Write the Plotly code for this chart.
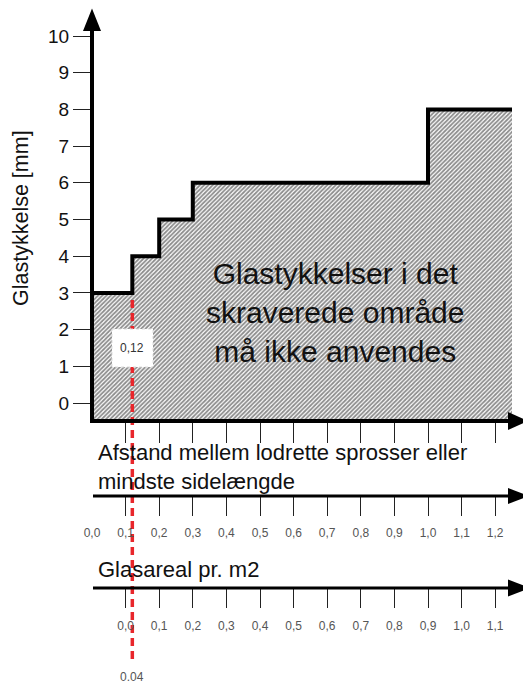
import plotly.graph_objects as go

# ---------------- data ----------------
step_x = [0.0, 0.12, 0.2, 0.3, 1.0, 1.25]          # afstand (m)
step_y = [3, 4, 5, 6, 8, 8]                          # glastykkelse (mm)
y_ticks = [0, 1, 2, 3, 4, 5, 6, 7, 8, 9, 10]
dist_ticks = [0.0, 0.1, 0.2, 0.3, 0.4, 0.5, 0.6, 0.7, 0.8, 0.9, 1.0, 1.1, 1.2]
dist_labels = ["0,0", "0,1", "0,2", "0,3", "0,4", "0,5", "0,6", "0,7", "0,8", "0,9", "1,0", "1,1", "1,2"]
glas_ticks = [0.0, 0.1, 0.2, 0.3, 0.4, 0.5, 0.6, 0.7, 0.8, 0.9, 1.0, 1.1]
glas_labels = ["0,0", "0,1", "0,2", "0,3", "0,4", "0,5", "0,6", "0,7", "0,8", "0,9", "1,0", "1,1"]
glas_offset = 0.1
marker_x = 0.12
marker_label = "0,12"
glas_marker_label = "0.04"
region_text = ["Glastykkelser i det", "skraverede område", "må ikke anvendes"]
y_title = "Glastykkelse [mm]"
x_title = ["Afstand mellem lodrette sprosser eller", "mindste sidelængde"]
glas_title = "Glasareal pr. m2"

# ---------------- geometry ----------------
WIN_W, WIN_H = 531, 685
OFF = 8  # default body margin of the page
W, H = WIN_W - OFF, WIN_H - OFF
X0PX, PXX = 92.0, 336.0
Y0PX, PXY = 403.0, 36.7


def xv(px):
    return (px - X0PX) / PXX


def yv(py):
    return (Y0PX - py) / PXY


def pos(py):
    return 1 - (py - OFF) / H


def px_paper(px):
    return (px - OFF) / W


FONT = "Liberation Sans, Arial, sans-serif"
x_range = [xv(OFF), xv(WIN_W)]
y_range = [yv(WIN_H), yv(OFF)]
base = yv(421)

fig = go.Figure()

# hatched area
fx = [step_x[0]] + step_x + [step_x[-1]]
fy = [base] + step_y + [base]
fig.add_trace(go.Scatter(
    x=fx, y=fy, mode="lines", line=dict(width=0, shape="hv"),
    fill="toself", fillcolor="white",
    fillpattern=dict(shape="/", size=3, solidity=0.6, fgcolor="#1a1a1a", bgcolor="white"),
    hoverinfo="skip", showlegend=False))
# step outline
fig.add_trace(go.Scatter(
    x=step_x, y=step_y, mode="lines", line=dict(width=4, color="black", shape="hv"),
    hoverinfo="skip", showlegend=False))
# red marker line
fig.add_trace(go.Scatter(
    x=[marker_x, marker_x], y=[yv(300), yv(663)], mode="lines",
    line=dict(width=3.5, color="#e8262b", dash="8px,5px"),
    hoverinfo="skip", showlegend=False))
# anchors for the extra axes
fig.add_trace(go.Scatter(x=[dist_ticks[0]], y=[base], xaxis="x2", mode="lines",
                         opacity=0, hoverinfo="skip", showlegend=False))
fig.add_trace(go.Scatter(x=[glas_ticks[0]], y=[base], xaxis="x3", mode="lines",
                         opacity=0, hoverinfo="skip", showlegend=False))

shapes = []
# axis lines
shapes.append(dict(type="line", xref="x", yref="y", x0=0, x1=0, y0=yv(423), y1=yv(26),
                   line=dict(color="black", width=4), layer="above"))
shapes.append(dict(type="path", xref="x", yref="y",
                   path=f"M {0},{yv(8.5)} L {xv(83)},{yv(31)} L {xv(101)},{yv(31)} Z",
                   fillcolor="black", line=dict(width=0), layer="above"))
for py, w, tip, half in [(421, 4, 528, 9), (496, 3, 529, 8), (588, 3, 530, 8.5)]:
    x_start = xv(90) if py == 421 else xv(93)
    shapes.append(dict(type="line", xref="x", yref="y", x0=x_start, x1=xv(512), y0=yv(py), y1=yv(py),
                       line=dict(color="black", width=w), layer="above"))
    shapes.append(dict(type="path", xref="x", yref="y",
                       path=f"M {xv(tip)},{yv(py)} L {xv(508)},{yv(py - half)} L {xv(508)},{yv(py + half)} Z",
                       fillcolor="black", line=dict(width=0), layer="above"))
# label box for marker
shapes.append(dict(type="rect", xref="x", yref="y", x0=xv(112), x1=xv(153), y0=yv(329), y1=yv(367),
                   fillcolor="white", line=dict(color="#dddddd", width=1, dash="dot"), layer="above"))

annotations = [
    dict(xref="paper", yref="paper", x=px_paper(21), y=pos(218), xanchor="center", yanchor="middle",
         text=y_title, textangle=-90,
         showarrow=False, font=dict(family=FONT, size=21.5, color="#111")),
    dict(xref="x", yref="y", x=xv(335), y=yv(312), xanchor="center", yanchor="middle",
         text="<br>".join(region_text),
         showarrow=False, align="center", font=dict(family=FONT, size=30, color="#111")),
    dict(xref="x", yref="y", x=xv(96), y=yv(467), text="<br>".join(x_title),
         xanchor="left", yanchor="middle",
         showarrow=False, align="left", font=dict(family=FONT, size=22, color="#111")),
    dict(xref="x", yref="y", x=xv(96), y=yv(569), text=glas_title, xanchor="left", yanchor="middle",
         showarrow=False, align="left", font=dict(family=FONT, size=22, color="#111")),
    dict(xref="x", yref="y", x=marker_x, y=yv(348), text=marker_label,
         xanchor="center", yanchor="middle",
         showarrow=False, font=dict(family=FONT, size=12, color="#333")),
    dict(xref="x", yref="y", x=marker_x, y=yv(677), text=glas_marker_label,
         xanchor="center", yanchor="middle",
         showarrow=False, font=dict(family=FONT, size=12, color="#555")),
]

fig.update_layout(
    width=W, height=H, margin=dict(l=0, r=0, t=0, b=0),
    paper_bgcolor="white", plot_bgcolor="white", hovermode=False,
    showlegend=False, shapes=shapes, annotations=annotations,
    xaxis=dict(domain=[0, 1], range=x_range, anchor="free", position=pos(421),
               tickvals=dist_ticks[1:], ticks="outside", ticklen=21, tickwidth=1.4, tickcolor="#222",
               showticklabels=False, showline=False, showgrid=False, zeroline=False),
    xaxis2=dict(overlaying="x", matches="x", anchor="free", position=pos(496),
                tickvals=dist_ticks, ticktext=dist_labels, ticks="outside", ticklen=19,
                tickcolor="rgba(0,0,0,0)", ticklabelstandoff=7,
                minor=dict(tickvals=dist_ticks[1:], ticks="outside", ticklen=19, tickwidth=1.4, tickcolor="#222"),
                tickfont=dict(family=FONT, size=12, color="#555"),
                showline=False, showgrid=False, zeroline=False),
    xaxis3=dict(overlaying="x", range=[x_range[0] - glas_offset, x_range[1] - glas_offset],
                anchor="free", position=pos(588),
                tickvals=glas_ticks, ticktext=glas_labels, ticks="outside", ticklen=19,
                tickwidth=1.4, tickcolor="#222", ticklabelstandoff=8,
                tickfont=dict(family=FONT, size=12, color="#555"),
                showline=False, showgrid=False, zeroline=False),
    yaxis=dict(domain=[0, 1], range=y_range, anchor="free", position=px_paper(X0PX),
               tickvals=y_ticks, ticks="outside", ticklen=19, tickwidth=1.4, tickcolor="#222",
               tickfont=dict(family=FONT, size=19, color="#111"),
               showline=False, showgrid=False, zeroline=False),
)

fig.write_html("out.html")
